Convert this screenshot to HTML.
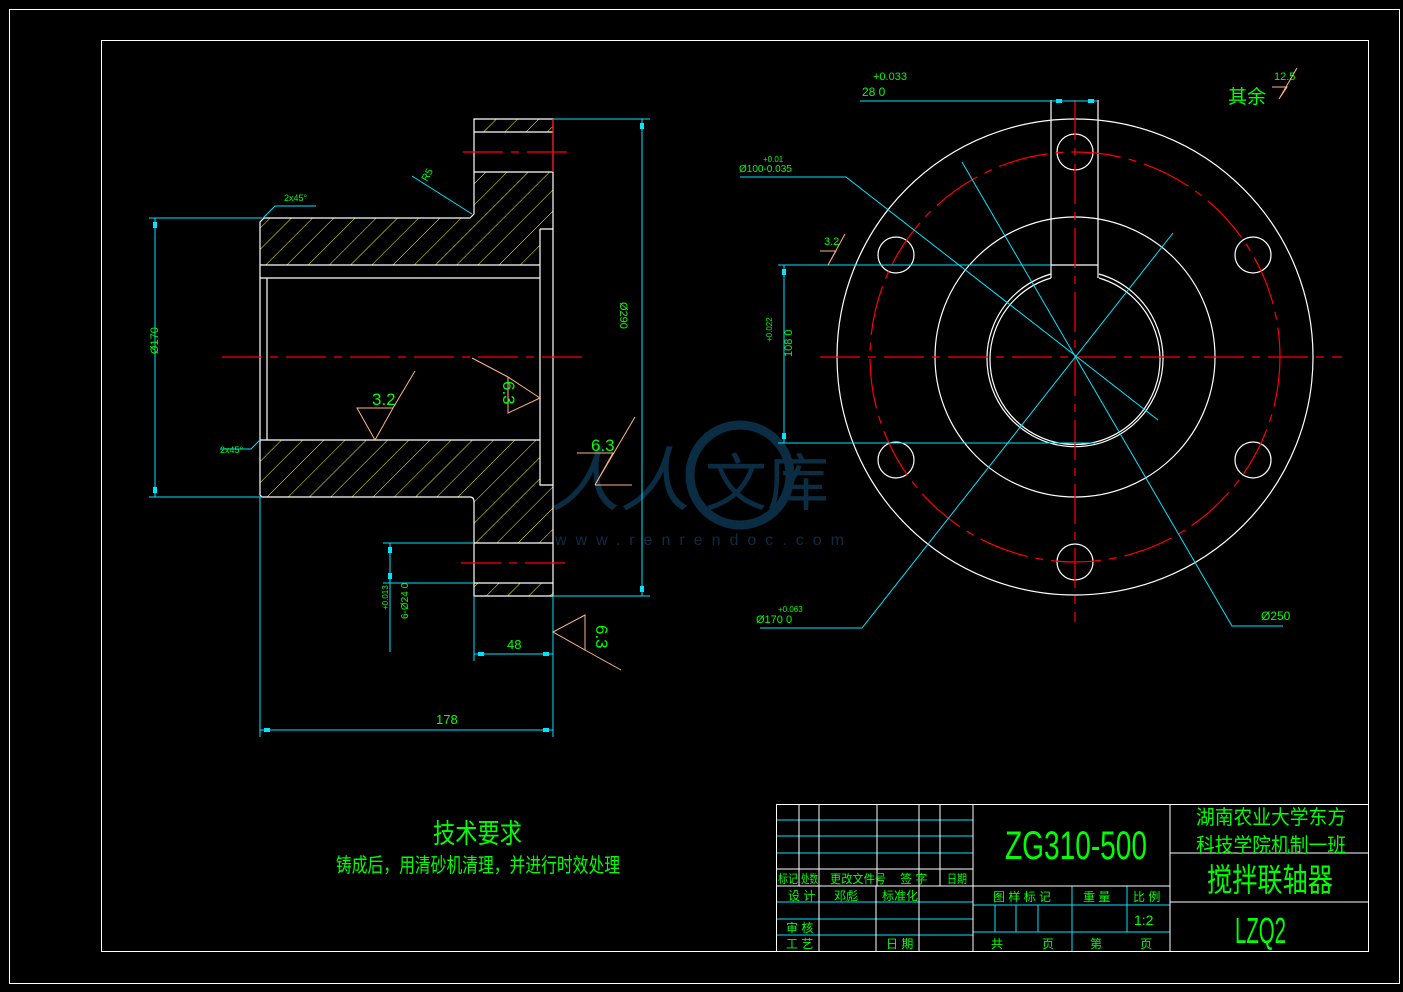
<!DOCTYPE html>
<html><head><meta charset="utf-8"><style>
html,body{margin:0;padding:0;background:#000;}
svg{display:block;}
text{font-family:"Liberation Sans","Noto Sans CJK SC",sans-serif;fill:#00ff00;}
</style></head><body>
<svg width="1403" height="992" viewBox="0 0 1403 992" xmlns="http://www.w3.org/2000/svg">
<defs>
<pattern id="h" patternUnits="userSpaceOnUse" width="15" height="15" patternTransform="rotate(45)">
<line x1="0" y1="0" x2="0" y2="15" stroke="#ffff00" stroke-width="1"/>
</pattern>
</defs>
<rect width="1403" height="992" fill="#000"/>
<rect x="9.5" y="9.5" width="1390" height="974" fill="none" stroke="#fff" stroke-width="1"/>
<rect x="101.5" y="40.5" width="1267" height="911" fill="none" stroke="#fff" stroke-width="1"/>

<!-- watermark -->
<g opacity="0.85">
<circle cx="740" cy="475" r="50" fill="none" stroke="#0d3550" stroke-width="9"/>
<text x="550" y="505" font-size="70" style="fill:#0d3550" font-style="italic">人人</text>
<text x="705" y="505" font-size="62" style="fill:#0d3550">文库</text>
<text x="555" y="545" font-size="16" style="fill:#0d3550;letter-spacing:9px" font-family="Liberation Serif">www.renrendoc.com</text>
</g>

<!-- LEFT VIEW -->
<g stroke="#fff" stroke-width="1.2" fill="none">
<rect x="474" y="119" width="79" height="13" fill="url(#h)" stroke="none"/>
<path d="M474 172 L553 172 L553 229 L540 229 L540 265 L260 265 L260 218 L470 218 L474 214 Z" fill="url(#h)" stroke="none"/>
<path d="M260 440 L540 440 L540 485 L553 485 L553 543 L474 543 L474 502 L470 497 L262 497 L260 495 Z" fill="url(#h)" stroke="none"/>
<rect x="474" y="583" width="79" height="13" fill="url(#h)" stroke="none"/>
<path d="M474 214 L474 119 L553 119 L553 596 L474 596 L474 502 Q474 497 470 497 L262 497 L260 495 L260 222 L264 218 L470 218 Z"/>
<line x1="474" y1="132" x2="553" y2="132"/>
<line x1="474" y1="172" x2="553" y2="172"/>
<line x1="474" y1="543" x2="553" y2="543"/>
<line x1="474" y1="583" x2="553" y2="583"/>
<line x1="260" y1="265" x2="540" y2="265"/>
<line x1="260" y1="278" x2="540" y2="278"/>
<line x1="260" y1="440" x2="540" y2="440"/>
<line x1="267" y1="278" x2="267" y2="440"/>
<path d="M540 229 L553 229 M540 229 L540 485 L553 485"/>
</g>
<g stroke="#ff0000" stroke-width="1.2" stroke-dasharray="40,8,8,8">
<line x1="222" y1="357" x2="585" y2="357"/>
<line x1="463" y1="152" x2="567" y2="152"/>
<line x1="461" y1="563" x2="572" y2="563"/>
</g>
<line x1="553" y1="119" x2="553" y2="172" stroke="#ff0000" stroke-width="1.2"/>

<g stroke="#00e5ff" stroke-width="1" fill="none">
<line x1="149" y1="218" x2="262" y2="218"/>
<line x1="149" y1="497" x2="262" y2="497"/>
<line x1="155" y1="218" x2="155" y2="497"/>
<line x1="553" y1="119" x2="650" y2="119"/>
<line x1="553" y1="596" x2="650" y2="596"/>
<line x1="642" y1="119" x2="642" y2="596"/>
<line x1="260" y1="497" x2="260" y2="737"/>
<line x1="553" y1="596" x2="553" y2="737"/>
<line x1="260" y1="730" x2="553" y2="730"/>
<line x1="474" y1="596" x2="474" y2="661"/>
<line x1="474" y1="654" x2="553" y2="654"/>
<line x1="383" y1="543" x2="474" y2="543"/>
<line x1="383" y1="583" x2="474" y2="583"/>
<line x1="390" y1="543" x2="390" y2="652"/>
<path d="M263 218 L275 206 L316 206"/>
<path d="M260 440 L251 449 L220 449"/>
<path d="M412 176 L472 214"/>
</g>
<g fill="#00e5ff">
<rect x="153" y="222" width="4" height="6"/><rect x="153" y="487" width="4" height="6"/>
<rect x="640" y="123" width="4" height="6"/><rect x="640" y="586" width="4" height="6"/>
<rect x="264" y="728" width="6" height="4"/><rect x="543" y="728" width="6" height="4"/>
<rect x="478" y="652" width="6" height="4"/><rect x="543" y="652" width="6" height="4"/>
<rect x="388" y="547" width="4" height="6"/><rect x="388" y="573" width="4" height="6"/>
</g>
<g font-size="11">
<text x="284" y="201" font-size="9">2x45°</text>
<text x="220" y="453" font-size="9">2x45°</text>
<text x="420" y="180" font-size="10" transform="rotate(-60 425 175)">R5</text>
<text x="150" y="370" transform="rotate(-90 146 358)">Ø170</text>
<text x="637" y="309" transform="rotate(90 632 297)">Ø290</text>
<text x="436" y="724" font-size="13">178</text>
<text x="507" y="649" font-size="13">48</text>
<text x="383" y="650" font-size="10" transform="rotate(-90 380 622)">6-Ø24 0</text>
<text x="372" y="626" font-size="8" transform="rotate(-90 372 610)">+0.013</text>
</g>
<g stroke="#ffb380" stroke-width="1" fill="none">
<path d="M357 408 L393 408 L375 440 Z M393 408 L415 371"/>
<path d="M508 377 L508 413 L540 398 Z M508 377 L472 358"/>
<path d="M577 453 L613 453 L595 485 L635 417 M595 485 L632 485"/>
<path d="M585 615 L585 650 L553 632 Z M585 650 L621 670"/>
</g>
<g font-size="17">
<text x="372" y="405">3.2</text>
<text x="591" y="451">6.3</text>
<text x="494" y="390" transform="rotate(90 503 390)">6.3</text>
<text x="588" y="633" transform="rotate(90 596 633)">6.3</text>
</g>

<!-- RIGHT VIEW -->
<g stroke="#fff" stroke-width="1.2" fill="none">
<circle cx="1075" cy="357" r="238"/>
<circle cx="1075" cy="357" r="140"/>
<path d="M1051 278 A85 85 0 1 0 1099 278"/>
<path d="M1051 274 A88 88 0 1 0 1099 274"/>
<path d="M1051 100 L1051 265 L1098 265 L1098 100"/>
<line x1="1051" y1="265" x2="1051" y2="278"/><line x1="1098" y1="265" x2="1098" y2="278"/>
<circle cx="1075" cy="152" r="18"/><circle cx="1075" cy="562" r="18"/>
<circle cx="896" cy="255" r="18"/><circle cx="1253" cy="255" r="18"/>
<circle cx="896" cy="460" r="18"/><circle cx="1253" cy="460" r="18"/>
</g>
<g stroke="#ff0000" stroke-width="1.2" fill="none">
<circle cx="1075" cy="357" r="205" stroke-dasharray="50,8,8,8"/>
<line x1="820" y1="357" x2="1342" y2="357" stroke-dasharray="40,8,8,8"/>
<line x1="1075" y1="100" x2="1075" y2="622" stroke-dasharray="40,8,8,8"/>
</g>
<g stroke="#00e5ff" stroke-width="1" fill="none">
<line x1="860" y1="101" x2="1098" y2="101"/>
<line x1="778" y1="265" x2="1051" y2="265"/>
<line x1="778" y1="443" x2="1095" y2="443"/>
<line x1="784" y1="265" x2="784" y2="443"/>
<path d="M740 177 L846 177 L1158 420"/>
<path d="M962 162 L1232 626 L1283 626"/>
<path d="M1173 233 L862 628 L760 628"/>
</g>
<g fill="#00e5ff">
<rect x="782" y="269" width="4" height="6"/><rect x="782" y="433" width="4" height="6"/>
<rect x="1056" y="99" width="6" height="4"/><rect x="1088" y="99" width="6" height="4"/>
</g>
<g font-size="12">
<text x="873" y="80" font-size="11">+0.033</text>
<text x="862" y="96" font-size="12">28 0</text>
<text x="739" y="172" font-size="10">Ø100-0.035</text>
<text x="763" y="162" font-size="8">+0.01</text>
<text x="781" y="374" font-size="11" transform="rotate(-90 778 360)">108 0</text>
<text x="772" y="346" font-size="8" transform="rotate(-90 770 344)">+0.022</text>
<text x="756" y="623" font-size="11">Ø170 0</text>
<text x="778" y="612" font-size="8">+0.063</text>
<text x="1261" y="620" font-size="12">Ø250</text>
<text x="1228" y="103" font-size="19">其余</text>
<text x="1274" y="80" font-size="11">12.5</text>
<text x="824" y="245" font-size="11">3.2</text>
</g>
<g stroke="#ffb380" stroke-width="1" fill="none">
<path d="M1272 87 L1287 87 L1279 99 L1297 68"/>
<path d="M820 251 L836 251 L828 265 L845 234"/>
</g>

<text x="433" y="843" font-size="27" textLength="89" lengthAdjust="spacingAndGlyphs">技术要求</text>
<text x="336" y="872" font-size="20" textLength="284" lengthAdjust="spacingAndGlyphs">铸成后，用清砂机清理，并进行时效处理</text>

<!-- TITLE BLOCK -->
<g stroke="#00e5ff" stroke-width="1">
<line x1="777" y1="820" x2="973" y2="820"/>
<line x1="777" y1="836" x2="973" y2="836"/>
<line x1="777" y1="853" x2="973" y2="853"/>
<line x1="777" y1="902" x2="973" y2="902"/>
<line x1="777" y1="919" x2="973" y2="919"/>
<line x1="777" y1="935" x2="973" y2="935"/>
<line x1="973" y1="905" x2="1170" y2="905"/>
<line x1="973" y1="932" x2="1170" y2="932"/>
<line x1="1072" y1="886" x2="1072" y2="951"/>
<line x1="1127" y1="886" x2="1127" y2="932"/>
<line x1="995" y1="905" x2="995" y2="932"/>
<line x1="1016" y1="905" x2="1016" y2="932"/>
<line x1="1038" y1="905" x2="1038" y2="932"/>
</g>
<g stroke="#fff" stroke-width="1" fill="none">
<rect x="776.5" y="804.5" width="592" height="147"/>
<line x1="777" y1="869" x2="973" y2="869"/>
<line x1="777" y1="886" x2="1170" y2="886"/>
<line x1="973" y1="804" x2="973" y2="952"/>
<line x1="1170" y1="804" x2="1170" y2="952"/>
<line x1="1170" y1="853" x2="1368" y2="853"/>
<line x1="1170" y1="902" x2="1368" y2="902"/>
<line x1="799" y1="804" x2="799" y2="886"/>
<line x1="819" y1="804" x2="819" y2="886"/>
<line x1="819" y1="886" x2="819" y2="952"/>
<line x1="876" y1="886" x2="876" y2="952"/>
<line x1="919" y1="886" x2="919" y2="952"/>
<line x1="877" y1="804" x2="877" y2="886"/>
<line x1="919" y1="804" x2="919" y2="886"/>
<line x1="940" y1="804" x2="940" y2="886"/>
</g>
<g font-size="12">
<text x="778" y="883" textLength="20" lengthAdjust="spacingAndGlyphs">标记</text><text x="801" y="883" textLength="17" lengthAdjust="spacingAndGlyphs">处数</text>
<text x="830" y="883" textLength="56" lengthAdjust="spacingAndGlyphs">更改文件号</text><text x="900" y="883">签 字</text>
<text x="947" y="883" textLength="20" lengthAdjust="spacingAndGlyphs">日期</text>
<text x="788" y="900">设 计</text><text x="834" y="900">邓彪</text>
<text x="882" y="900">标准化</text>
<text x="786" y="932">审 核</text><text x="786" y="948">工 艺</text>
<text x="886" y="948">日 期</text>
<text x="993" y="901">图 样 标 记</text>
<text x="1083" y="901">重 量</text><text x="1133" y="901">比 例</text>
<text x="1134" y="925" font-size="14">1:2</text>
<text x="991" y="948">共</text><text x="1042" y="948">页</text>
<text x="1090" y="948">第</text><text x="1140" y="948">页</text>
</g>
<text x="1005" y="859" font-size="40" textLength="142" lengthAdjust="spacingAndGlyphs">ZG310-500</text>
<text x="1196" y="824" font-size="20" textLength="150" lengthAdjust="spacingAndGlyphs">湖南农业大学东方</text>
<text x="1196" y="852" font-size="20" textLength="150" lengthAdjust="spacingAndGlyphs">科技学院机制一班</text>
<text x="1207" y="891" font-size="32" textLength="126" lengthAdjust="spacingAndGlyphs">搅拌联轴器</text>
<text x="1235" y="943" font-size="36" textLength="51" lengthAdjust="spacingAndGlyphs">LZQ2</text>
</svg>
</body></html>
